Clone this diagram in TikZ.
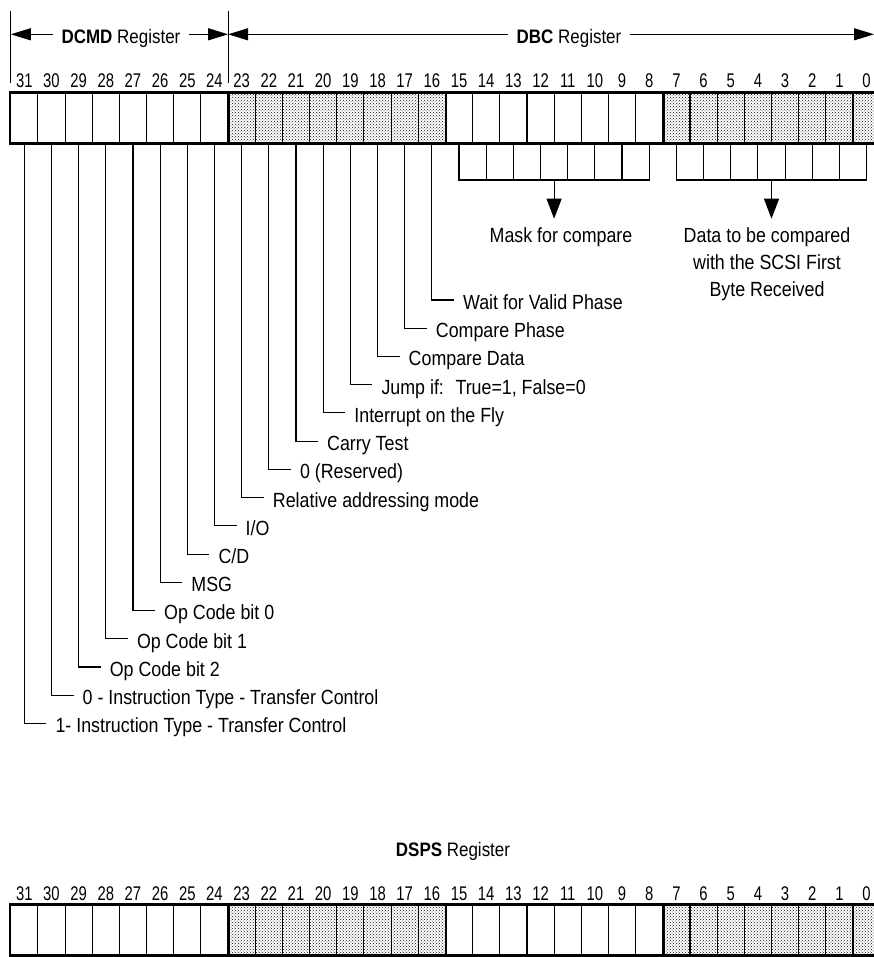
\documentclass[tikz,border=0pt]{standalone}
\usepackage{fontspec}
\setmainfont{Liberation Sans}[FakeStretch=0.87]
\newfontfamily\bitfont{Liberation Sans}[FakeStretch=0.75]
\usetikzlibrary{arrows.meta,patterns}
\definecolor{regcolor0000}{RGB}{0,0,0}
\definecolor{regcolor0001}{RGB}{255,255,255}
\definecolor{regcolor0002}{RGB}{20,20,20}

\begin{document}
\begin{tikzpicture}[x=1pt,y=-1pt
                ,font=\fontsize{20.5}{26.7}\selectfont
                ,bitcell/.style={draw=regcolor0000,fill=regcolor0001,line width=1.1pt,minimum width=27.17pt,minimum height=50pt,inner sep=0pt}
                ,dotcell/.style={bitcell,pattern=crosshatch dots,pattern color=regcolor0002}
                ,maskcell/.style={draw=regcolor0000,line width=1.1pt,minimum width=27.17pt,minimum height=37pt,inner sep=0pt}
                ,regframe/.style={draw=regcolor0000,line width=2.4pt}
                ,bitno/.style={anchor=base,inner sep=0pt,font=\bitfont\fontsize{19.8}{22}\selectfont}
                ,leader/.style={color=regcolor0000,line width=1.1pt}
                ,fieldlabel/.style={anchor=west,inner xsep=9pt,inner ysep=2pt,text height=18.9pt,text depth=0pt}
                ,regtitle/.style={inner xsep=8pt,inner ysep=2pt,text height=18pt,text depth=0pt,font=\fontsize{19.5}{22}\selectfont}
                ,spanarrow/.style={leader,-{Triangle[length=20pt,width=12pt]}}
                ,pointer/.style={leader,-{Triangle[length=20pt,width=15pt]}}
                ,note/.style={anchor=north,align=center,inner xsep=0pt,inner ysep=9.2pt}
            ]
            \useasboundingbox (0,0) rectangle (873,957);
            % register cells, bit numbers
            \foreach \i in {0,...,31} {
                \pgfmathtruncatemacro\g{mod(floor(\i/8),2)}
                \ifnum\g=0 \def\cs{dotcell}\else\def\cs{bitcell}\fi
                \node[style=\cs] (c\i) at ({24.3+(31-\i)*27.17},118) {};
                \node[style=\cs] (d\i) at ({24.3+(31-\i)*27.17},930) {};
                \node[bitno] (n\i) at ({24.3+(31-\i)*27.17},87.3) {\i};
                \node[bitno] (p\i) at ({24.3+(31-\i)*27.17},900.7) {\i};
            }
            \draw[regframe] (c31.north west) rectangle (c0.south east);
            \draw[regframe] (d31.north west) rectangle (d0.south east);
            \foreach \j in {24,16,8} {
                \draw[regframe] (c\j.north east) -- (c\j.south east);
                \draw[regframe] (d\j.north east) -- (d\j.south east);
            }
            % mask and data boxes
            \foreach \j in {1,...,7} {
                \node[maskcell] (m\j) at ({459+(\j-0.5)*27.17},161.5) {};
                \node[maskcell] (e\j) at ({676.4+(\j-0.5)*27.17},161.5) {};
            }
            % header
            \draw[leader] (10.8,11) -- (10.8,83);
            \draw[leader] (228.1,11) -- (228.1,83);
            \coordinate (dcmdL) at (10.8,34.3);
            \coordinate (dcmdR) at (228.1,34.3);
            \coordinate (dbcR) at (874,34.3);
            \node[regtitle] (dcmd) at (121,34.3) {\textbf{DCMD} Register};
            \node[regtitle] (dbc) at (569,34.3) {\textbf{DBC} Register};
            \draw[spanarrow] (dcmd.west) -- (dcmd.west -| dcmdL);
            \draw[spanarrow] (dcmd.east) -- (dcmd.east -| dcmdR);
            \draw[spanarrow] (dbc.west) -- (dbc.west -| dcmdR);
            \draw[spanarrow] (dbc.east) -- (dbc.east -| dbcR);
            % field labels
            \node[fieldlabel] (l16) at (453.9,300) {Wait for Valid Phase};
            \node[fieldlabel] (l17) at (426.7,328.2) {Compare Phase};
            \node[fieldlabel] (l18) at (399.5,356.5) {Compare Data};
            \node[fieldlabel] (l19) at (372.3,384.7) {Jump if: \ True=1, False=0};
            \node[fieldlabel] (l20) at (345.2,412.9) {Interrupt on the Fly};
            \node[fieldlabel] (l21) at (318.0,441.2) {Carry Test};
            \node[fieldlabel] (l22) at (290.8,469.4) {0 (Reserved)};
            \node[fieldlabel] (l23) at (263.7,497.6) {Relative addressing mode};
            \node[fieldlabel] (l24) at (236.5,525.8) {I/O};
            \node[fieldlabel] (l25) at (209.3,554.1) {C/D};
            \node[fieldlabel] (l26) at (182.2,582.3) {MSG};
            \node[fieldlabel] (l27) at (155.0,610.5) {Op Code bit 0};
            \node[fieldlabel] (l28) at (127.8,638.8) {Op Code bit 1};
            \node[fieldlabel] (l29) at (100.6,667) {Op Code bit 2};
            \node[fieldlabel] (l30) at (73.5,695.2) {0 - Instruction Type - Transfer Control};
            \node[fieldlabel] (l31) at (46.3,723.5) {1- Instruction Type - Transfer Control};
            \foreach \i in {16,...,31}
                \draw[leader] (c\i.south) |- (l\i.west);
            % notes
            \node[note] (mask) at (561,218.7) {Mask for compare};
            \node[note] (data) at (767,218.7) {Data to be compared\\with the SCSI First\\Byte Received};
            \draw[pointer] (m4.south) -- (m4.south |- mask.north);
            \draw[pointer] (e4.south) -- (e4.south |- data.north);
            % lower register
            \node[anchor=base,font=\fontsize{19.5}{22}\selectfont] (dsps) at (453,856.7) {\textbf{DSPS} Register};
        \end{tikzpicture}
\end{document}
